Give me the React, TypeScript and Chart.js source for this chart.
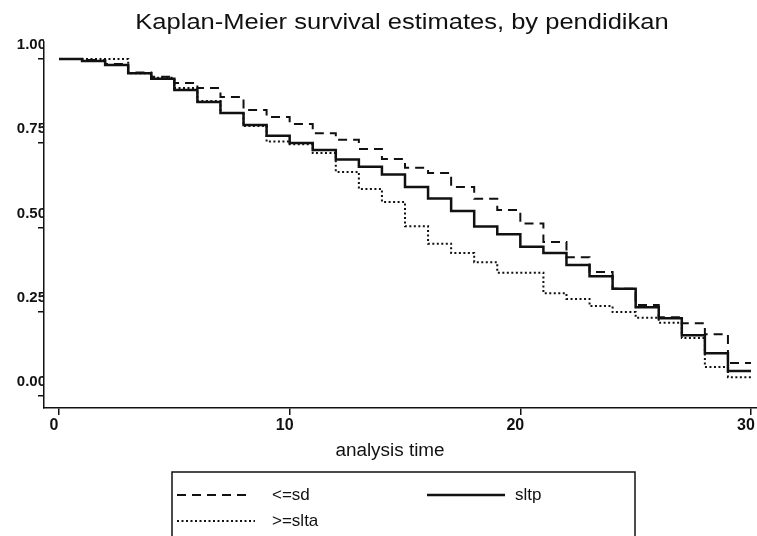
import React, { useEffect, useRef } from "react";
import { Chart, registerables } from "chart.js";

Chart.register(...registerables);

// Kaplan-Meier step values: value holding from time t[i] until t[i+1]
const times = [0, 1, 2, 3, 4, 5, 6, 7, 8, 9, 10, 11, 12, 13, 14, 15, 16, 17, 18, 19, 20, 21, 22, 23, 24, 25, 26, 27, 28, 29, 30];
const sdValues = [1.0, 0.997, 0.985, 0.96, 0.947, 0.929, 0.914, 0.887, 0.849, 0.828, 0.807, 0.78, 0.76, 0.733, 0.703, 0.677, 0.662, 0.62, 0.585, 0.552, 0.512, 0.457, 0.412, 0.368, 0.318, 0.27, 0.234, 0.216, 0.183, 0.098, 0.098];
const sltpValues = [1.0, 0.994, 0.982, 0.958, 0.941, 0.908, 0.872, 0.84, 0.804, 0.772, 0.751, 0.73, 0.702, 0.68, 0.657, 0.62, 0.586, 0.549, 0.503, 0.48, 0.443, 0.424, 0.389, 0.355, 0.318, 0.263, 0.231, 0.18, 0.127, 0.074, 0.074];
const sltaValues = [1.0, 1.0, 1.0, 0.958, 0.944, 0.914, 0.875, 0.84, 0.801, 0.755, 0.747, 0.721, 0.665, 0.614, 0.576, 0.504, 0.452, 0.424, 0.397, 0.366, 0.366, 0.305, 0.288, 0.267, 0.249, 0.232, 0.217, 0.172, 0.086, 0.056, 0.056];

const seriesLabels = ["<=sd", "sltp", ">=slta"];
const xTickValues = [0, 10, 20, 30];
const yTickValues = [0, 0.25, 0.5, 0.75, 1.0];
const titleText = "Kaplan-Meier survival estimates, by pendidikan";
const xAxisTitle = "analysis time";

const FONT = "'Liberation Sans', Arial, Helvetica, sans-serif";
const DASH = [9, 6];
const DOT = [2, 2.5];

const toPoints = (vals: number[]) => times.map((t, i) => ({ x: t, y: vals[i] }));

const decorPlugin = {
  id: "decor",
  afterDraw(chart: any) {
    const ctx = chart.ctx as CanvasRenderingContext2D;
    ctx.save();
    ctx.fillStyle = "#111";
    ctx.textBaseline = "middle";
    // Title
    ctx.save();
    ctx.font = `22px ${FONT}`;
    ctx.textAlign = "center";
    ctx.translate(402, 23);
    ctx.scale(1.16, 1);
    ctx.fillText(titleText, 0, 0);
    ctx.restore();
    // Axis title
    ctx.save();
    ctx.font = `18px ${FONT}`;
    ctx.textAlign = "center";
    ctx.translate(390, 451);
    ctx.scale(1.05, 1);
    ctx.fillText(xAxisTitle, 0, 0);
    ctx.restore();
    // Legend box
    ctx.strokeStyle = "#111";
    ctx.lineWidth = 1.5;
    ctx.strokeRect(172, 472, 463, 80);
    const items = [
      { label: seriesLabels[0], x0: 177, x1: 250, y: 495, dash: DASH, w: 2, tx: 272 },
      { label: seriesLabels[1], x0: 427, x1: 505, y: 495, dash: [], w: 2.5, tx: 515 },
      { label: seriesLabels[2], x0: 177, x1: 255, y: 521, dash: DOT, w: 2, tx: 272 },
    ];
    ctx.font = `17px ${FONT}`;
    ctx.textAlign = "left";
    for (const it of items) {
      ctx.beginPath();
      ctx.setLineDash(it.dash);
      ctx.lineWidth = it.w;
      ctx.moveTo(it.x0, it.y);
      ctx.lineTo(it.x1, it.y);
      ctx.stroke();
      ctx.setLineDash([]);
      ctx.fillText(it.label, it.tx, it.y);
    }
    ctx.restore();
  },
};

export default function App() {
  const ref = useRef<HTMLCanvasElement | null>(null);
  useEffect(() => {
    document.body.style.margin = "0";
    const canvas = ref.current;
    if (!canvas) return;
    const chart = new Chart(canvas, {
      type: "line",
      data: {
        datasets: [
          {
            label: seriesLabels[0],
            data: toPoints(sdValues),
            borderColor: "#111",
            borderWidth: 2,
            borderDash: DASH,
            stepped: "before",
            pointRadius: 0,
            fill: false,
          },
          {
            label: seriesLabels[2],
            data: toPoints(sltaValues),
            borderColor: "#111",
            borderWidth: 2,
            borderDash: DOT,
            stepped: "before",
            pointRadius: 0,
            fill: false,
          },
          {
            label: seriesLabels[1],
            data: toPoints(sltpValues),
            borderColor: "#111",
            borderWidth: 2.5,
            stepped: "before",
            pointRadius: 0,
            fill: false,
          },
        ],
      },
      options: {
        responsive: false,
        animation: false,
        devicePixelRatio: 1,
        layout: { padding: { top: 42, left: 0, right: 0, bottom: 0 } },
        plugins: {
          legend: { display: false },
          title: { display: false },
          tooltip: { enabled: false },
        },
        scales: {
          x: {
            type: "linear",
            min: -0.65,
            max: 30.26,
            afterBuildTicks: (s: any) => {
              s.ticks = xTickValues.map((v) => ({ value: v }));
            },
            afterFit: (s: any) => {
              s.height = 128;
              s.paddingLeft = 0;
              s.paddingRight = 0;
            },
            grid: { display: true, drawOnChartArea: false, drawTicks: true, tickLength: 7, color: "#111", lineWidth: 1.5 },
            border: { display: true, color: "#111", width: 1.5 },
            ticks: {
              color: "#111",
              font: { family: FONT, size: 16, weight: "bold" },
              padding: 1,
              labelOffset: -5,
              maxRotation: 0,
              autoSkip: false,
              callback: (v: any) => String(v),
            },
          },
          y: {
            type: "linear",
            min: -0.0356,
            max: 1.0504,
            afterBuildTicks: (s: any) => {
              s.ticks = yTickValues.map((v) => ({ value: v }));
            },
            afterFit: (s: any) => {
              s.width = 44;
              s.paddingTop = 0;
              s.paddingBottom = 0;
            },
            grid: { display: true, drawOnChartArea: false, drawTicks: true, tickLength: 6, color: "#111", lineWidth: 1.5 },
            border: { display: true, color: "#111", width: 1.5 },
            ticks: {
              color: "#111",
              font: { family: FONT, size: 15, weight: "bold" },
              padding: -8,
              labelOffset: -14,
              autoSkip: false,
              callback: (v: any) => Number(v).toFixed(2),
            },
          },
        },
      },
      plugins: [decorPlugin],
    });
    return () => chart.destroy();
  }, []);
  return <canvas ref={ref} width={757} height={536} style={{ display: "block" }} />;
}
